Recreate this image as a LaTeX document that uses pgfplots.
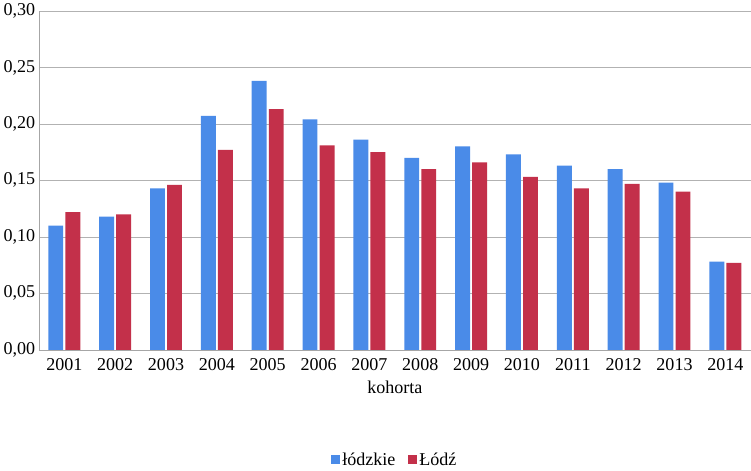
\documentclass[border=0pt]{standalone}
\usepackage{pgfplots}
\pgfplotsset{compat=1.18}
\usepackage{fontspec}
\setmainfont{Liberation Serif}
\definecolor{cb}{HTML}{4A8BE8}
\definecolor{cr}{HTML}{C3304A}
\begin{document}
\begin{tikzpicture}
\begin{axis}[
  scale only axis,
  width=668bp, height=318bp,
  ybar, bar width=14bp,
  ymin=0, ymax=0.30, ytick={0,0.05,...,0.30},
  xmin=-0.5, xmax=13.5,
  xtick={0,...,13},
  xticklabels={2001,2002,2003,2004,2005,2006,2007,2008,2009,2010,2011,2012,2013,2014},
  xlabel={kohorta},
  /pgf/number format/assume math mode=true,
  yticklabel style={/pgf/number format/.cd,fixed,fixed zerofill,precision=2,use comma},
  ymajorgrids, grid style={gray!60},
  axis line style={gray!70},
  tick style={draw=none},
  axis x line*=bottom, axis y line*=left,
  ticklabel style={font=\rmfamily\fontsize{17}{19}\selectfont},
  xlabel style={font=\rmfamily\fontsize{17}{19}\selectfont,yshift=-3bp},
  legend style={at={(0.5,-0.29)},anchor=north,draw=none,legend columns=2,font=\rmfamily\fontsize{17}{19}\selectfont,/tikz/every even column/.append style={column sep=10pt}},
  legend image code/.code={\draw[#1,draw=none] (0cm,-0.14cm) rectangle (0.3cm,0.16cm);},
]
\addplot[fill=cb,draw=none] coordinates {(0,0.110)(1,0.118)(2,0.143)(3,0.207)(4,0.238)(5,0.204)(6,0.186)(7,0.170)(8,0.180)(9,0.173)(10,0.163)(11,0.160)(12,0.148)(13,0.078)};
\addplot[fill=cr,draw=none] coordinates {(0,0.122)(1,0.120)(2,0.146)(3,0.177)(4,0.213)(5,0.181)(6,0.175)(7,0.160)(8,0.166)(9,0.153)(10,0.143)(11,0.147)(12,0.140)(13,0.077)};
\legend{łódzkie,Łódź}
\end{axis}
\end{tikzpicture}
\end{document}
